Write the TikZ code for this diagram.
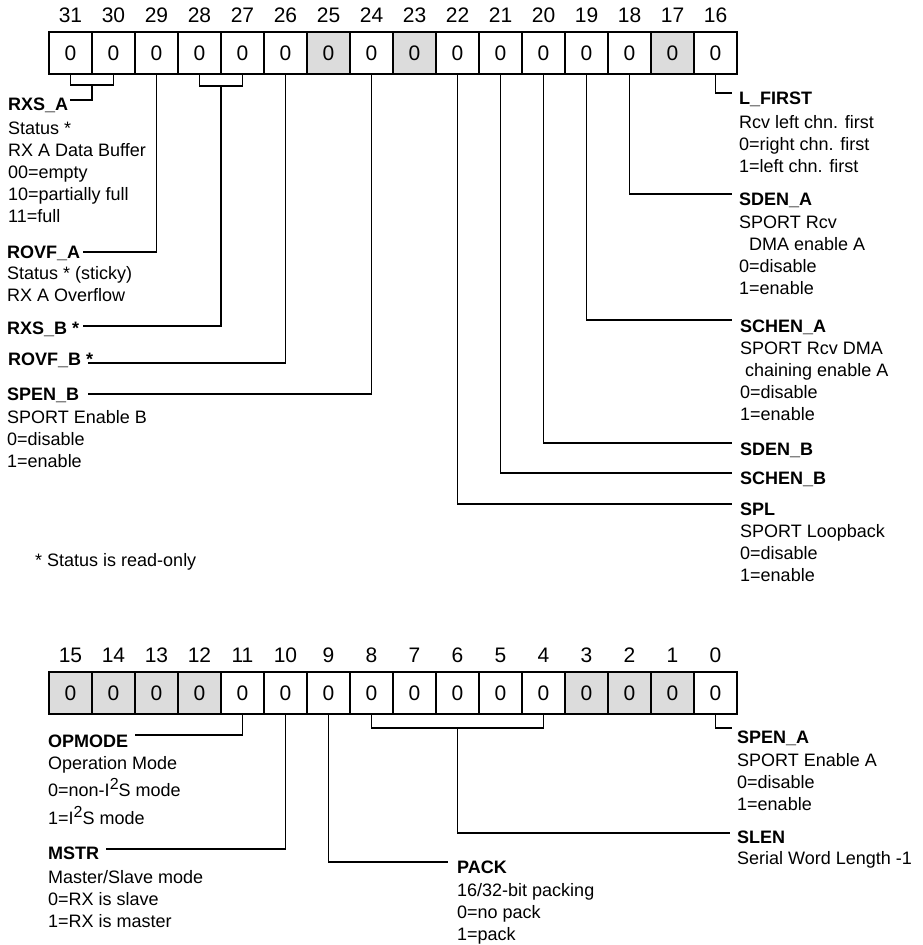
\documentclass[tikz,border=0pt]{standalone}
\usepackage{fontspec}
\setmainfont{Liberation Sans}
\usetikzlibrary{calc}
\definecolor{regshade}{HTML}{DCDCDC}
% raised "2" of I2S
\newcommand{\sqtwo}{\raisebox{7pt}[0pt][0pt]{\fontsize{16}{16}\selectfont 2}}
\begin{document}
\begin{tikzpicture}[x=1pt,y=-1pt,
  cell/.style={draw=black,line width=1.2pt,minimum width=43pt,minimum height=42pt,
    inner sep=0pt,outer sep=0pt,anchor=north west,font=\fontsize{21}{21}\selectfont},
  bitnum/.style={inner sep=0pt,font=\fontsize{21}{21}\selectfont},
  frame/.style={draw=black,line width=2pt},
  nibble/.style={draw=black,line width=2.2pt},
  conn/.style={draw=black,line width=1.8pt},
  ttl/.style={inner sep=0pt,anchor=west,text height=13pt,text depth=0pt,
    font=\bfseries\fontsize{18}{22}\selectfont},
  desc/.style={inner sep=0pt,anchor=north west,align=left,
    font=\fontsize{18}{22}\selectfont},
  note/.style={inner sep=0pt,anchor=west,font=\fontsize{18}{22}\selectfont}
]
\fill[white] (0,0) rectangle (922,945);
\useasboundingbox (0,0) rectangle (922,945);

% ---------- upper register, bits 31..16 ----------
\foreach \b/\f [count=\k from 0] in {31/white,30/white,29/white,28/white,27/white,
    26/white,25/regshade,24/white,23/regshade,22/white,21/white,20/white,19/white,
    18/white,17/regshade,16/white} {
  \node[cell,fill=\f] (t\b) at (49+43*\k,32) {0};
  \node[bitnum] (nt\b) at ([yshift=16.5pt]t\b.north) {\b};
}
\draw[nibble] (t28.north east) -- (t28.south east);
\draw[nibble] (t24.north east) -- (t24.south east);
\draw[frame] (t31.north west) rectangle (t16.south east);

% ---------- lower register, bits 15..0 ----------
\foreach \b/\f [count=\k from 0] in {15/regshade,14/regshade,13/regshade,12/regshade,
    11/white,10/white,9/white,8/white,7/white,6/white,5/white,4/white,
    3/regshade,2/regshade,1/regshade,0/white} {
  \node[cell,fill=\f] (b\b) at (49+43*\k,672) {0};
  \node[bitnum] (nb\b) at ([yshift=17pt]b\b.north) {\b};
}
\draw[nibble] (b12.north east) -- (b12.south east);
\draw[nibble] (b8.north east) -- (b8.south east);
\draw[nibble] (b4.north east) -- (b4.south east);
\draw[frame] (b15.north west) rectangle (b0.south east);

% ---------- upper register: left-hand fields ----------
\node[ttl] (rxsa) at (8,104) {RXS\_A};
\node[desc] (rxsad) at ([yshift=-8.6pt]rxsa.south west)
  {\strut Status *\\\strut RX A Data Buffer\\\strut 00=empty\\\strut 10=partially full\\\strut 11=full};
\coordinate (rxsaknee) at ($(t31.south)!0.5!(t30.south)+(0,11)$);
\draw[conn] (t31.south) -- ++(0,11) -| (t30.south);
\draw[conn] (rxsaknee) |- ([xshift=2pt,yshift=4pt]rxsa.east);

\node[ttl] (rovfa) at (7,252) {ROVF\_A};
\node[desc] (rovfad) at ([yshift=-5.6pt]rovfa.south west)
  {\strut Status * (sticky)\\\strut RX A Overflow};
\draw[conn] (t29.south) |- ([xshift=3pt]rovfa.east);

\node[ttl] (rxsb) at (7,328) {RXS\_B *};
\coordinate (rxsbknee) at ($(t28.south)!0.5!(t27.south)+(0,12)$);
\draw[conn] (t28.south) -- ++(0,12) -| (t27.south);
\draw[conn] (rxsbknee) |- ([xshift=4pt,yshift=2pt]rxsb.east);

\node[ttl] (rovfb) at (8,359) {ROVF\_B *};
\draw[conn] (t26.south) |- ([xshift=-5pt,yshift=-4pt]rovfb.east);

\node[ttl] (spenb) at (7,394) {SPEN\_B};
\node[desc] (spenbd) at ([yshift=-7.6pt]spenb.south west)
  {\strut SPORT Enable B\\\strut 0=disable\\\strut 1=enable};
\draw[conn] (t24.south) |- ([xshift=9pt]spenb.east);

\node[note] (statusnote) at (35,562) {* Status is read-only};

% ---------- upper register: right-hand fields ----------
\node[ttl] (lfirst) at (739,98) {L\_FIRST};
\node[desc] (lfirstd) at ([yshift=-8.6pt]lfirst.south west)
  {\strut Rcv left chn. first\\\strut 0=right chn. first\\\strut 1=left chn. first};
\draw[conn] (t16.south) |- ([xshift=-7pt,yshift=5pt]lfirst.west);

\node[ttl] (sdena) at (739,199) {SDEN\_A};
\node[desc] (sdenad) at ([yshift=-7.6pt]sdena.south west)
  {\strut SPORT Rcv\\\strut\hspace*{10pt}DMA enable A\\\strut 0=disable\\\strut 1=enable};
\draw[conn] (t18.south) |- ([xshift=-7pt,yshift=5pt]sdena.west);

\node[ttl] (schena) at (740,326) {SCHEN\_A};
\node[desc] (schenad) at ([yshift=-6.6pt]schena.south west)
  {\strut SPORT Rcv DMA\\\strut\hspace*{5pt}chaining enable A\\\strut 0=disable\\\strut 1=enable};
\draw[conn] (t19.south) |- ([xshift=-8pt,yshift=6pt]schena.west);

\node[ttl] (sdenb) at (740,449) {SDEN\_B};
\draw[conn] (t20.south) |- ([xshift=-8pt,yshift=6pt]sdenb.west);

\node[ttl] (schenb) at (740,478) {SCHEN\_B};
\draw[conn] (t21.south) |- ([xshift=-8pt,yshift=5pt]schenb.west);

\node[ttl] (spl) at (740,509) {SPL};
\node[desc] (spld) at ([yshift=-6.6pt]spl.south west)
  {\strut SPORT Loopback\\\strut 0=disable\\\strut 1=enable};
\draw[conn] (t22.south) |- ([xshift=-8pt,yshift=5pt]spl.west);

% ---------- lower register fields ----------
\node[ttl] (opmode) at (48,741) {OPMODE};
\node[desc] (opmoded) at ([yshift=-6.6pt]opmode.south west)
  {\strut Operation Mode\\[5pt]\strut 0=non-I\sqtwo S mode\\[6pt]\strut 1=I\sqtwo S mode};
\draw[conn] (b11.south) |- ([xshift=7pt,yshift=6pt]opmode.east);

\node[ttl] (mstr) at (48,853) {MSTR};
\node[desc] (mstrd) at ([yshift=-8.6pt]mstr.south west)
  {\strut Master/Slave mode\\\strut 0=RX is slave\\\strut 1=RX is master};
\draw[conn] (b10.south) |- ([xshift=7pt,yshift=4pt]mstr.east);

\node[ttl] (pack) at (457,867) {PACK};
\node[desc] (packd) at ([yshift=-7.6pt]pack.south west)
  {\strut 16/32-bit packing\\\strut 0=no pack\\\strut 1=pack};
\draw[conn] (b9.south) |- ([xshift=-9pt,yshift=5pt]pack.west);

\node[ttl] (slen) at (737,837) {SLEN};
\node[desc] (slend) at ([yshift=-5.6pt]slen.south west)
  {\strut Serial Word Length -1};
\coordinate (slenknee) at ($(b6.south)+(0,14)$);
\draw[conn] (b8.south) -- ++(0,14) -| (b4.south);
\draw[conn] (slenknee) |- ([xshift=-7pt,yshift=4pt]slen.west);

\node[ttl] (spena) at (737,737) {SPEN\_A};
\node[desc] (spenad) at ([yshift=-7.6pt]spena.south west)
  {\strut SPORT Enable A\\\strut 0=disable\\\strut 1=enable};
\draw[conn] (b0.south) |- ([xshift=-5pt,yshift=9pt]spena.west);
\end{tikzpicture}
\end{document}
